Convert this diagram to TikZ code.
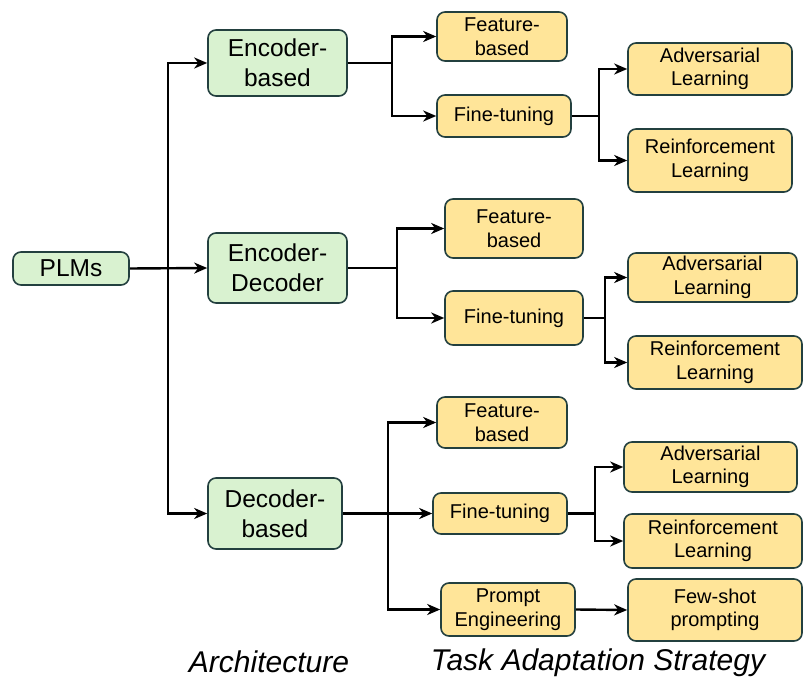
\documentclass[tikz,border=0pt]{standalone}
\usepackage{fontspec}
\setmainfont{Liberation Sans}
\usetikzlibrary{arrows.meta}
\definecolor{gfill}{HTML}{D9F2D0}
\definecolor{yfill}{HTML}{FFE599}
\definecolor{bord}{HTML}{23403F}
\begin{document}
\begin{tikzpicture}[x=1pt,y=-1pt,
  base/.style={draw=bord,line width=1.6pt,rounded corners=8pt,align=center,inner sep=0pt},
  gbox/.style={base,fill=gfill,font=\fontsize{24.5}{30}\selectfont},
  ybox/.style={base,fill=yfill,font=\fontsize{20}{23.5}\selectfont},
  conn/.style={line width=2.4pt,black},
  arr/.style={conn,-{Stealth[length=13pt,width=11pt,inset=4pt]}},
  lab/.style={font=\fontsize{30}{36}\selectfont\itshape}]
\useasboundingbox (0,0) rectangle (810,684);
% green
\node[gbox,minimum width=116pt,minimum height=33pt] (PLM) at (71,268.5) {PLMs};
\node[gbox,minimum width=139pt,minimum height=66pt] (EB) at (277.5,63) {Encoder-\\based};
\node[gbox,minimum width=139pt,minimum height=70pt] (ED) at (277.5,268) {Encoder-\\Decoder};
\node[gbox,minimum width=134pt,minimum height=71pt] (DB) at (275,513.5) {Decoder-\\based};
% yellow group 1
\node[ybox,minimum width=130pt,minimum height=49pt] (F1) at (502,36.5) {Feature-\\based};
\node[ybox,minimum width=134pt,minimum height=42pt] (T1) at (504,116) {Fine-tuning};
\node[ybox,minimum width=164pt,minimum height=52pt] (A1) at (710,69) {Adversarial\\Learning};
\node[ybox,minimum width=164pt,minimum height=63pt] (R1) at (710,160.5) {Reinforcement\\Learning};
% yellow group 2
\node[ybox,minimum width=138pt,minimum height=59pt] (F2) at (514,228.5) {Feature-\\based};
\node[ybox,minimum width=138pt,minimum height=54pt] (T2) at (514,318) {Fine-tuning};
\node[ybox,minimum width=169pt,minimum height=49pt] (A2) at (712.5,277.5) {Adversarial\\Learning};
\node[ybox,minimum width=174pt,minimum height=53pt] (R2) at (715,362.5) {Reinforcement\\Learning};
% yellow group 3
\node[ybox,minimum width=130pt,minimum height=51pt] (F3) at (502,422.5) {Feature-\\based};
\node[ybox,minimum width=134pt,minimum height=41pt] (T3) at (500,513.5) {Fine-tuning};
\node[ybox,minimum width=173pt,minimum height=50pt] (A3) at (710.5,467) {Adversarial\\Learning};
\node[ybox,minimum width=178pt,minimum height=54pt] (R3) at (713,541) {Reinforcement\\Learning};
\node[ybox,minimum width=134pt,minimum height=53pt] (P) at (508,609.5) {Prompt\\Engineering};
\node[ybox,minimum width=174pt,minimum height=62pt] (FS) at (715,610) {Few-shot\\prompting};
% junctions
\coordinate (j1) at (168,268.5);
\coordinate (j2) at (392,63);
\coordinate (j3) at (599,116);
\coordinate (j4) at (397,268);
\coordinate (j5) at (605,318);
\coordinate (j6) at (388,513.5);
\coordinate (j7) at (595,513.5);
% connectors
\draw[arr] (PLM.east) -- (ED.west);
\draw[arr] (j1) |- (EB.west);
\draw[arr] (j1) |- (DB.west);
\draw[conn] (EB.east) -- (j2);
\draw[arr] (j2) |- (F1.west);
\draw[arr] (j2) |- (T1.west);
\draw[conn] (T1.east) -- (j3);
\draw[arr] (j3) |- (A1.west);
\draw[arr] (j3) |- (R1.west);
\draw[conn] (ED.east) -- (j4);
\draw[arr] (j4) |- (F2.west);
\draw[arr] (j4) |- (T2.west);
\draw[conn] (T2.east) -- (j5);
\draw[arr] (j5) |- (A2.west);
\draw[arr] (j5) |- (R2.west);
\draw[arr] (DB.east) -- (T3.west);
\draw[arr] (j6) |- (F3.west);
\draw[arr] (j6) |- (P.west);
\draw[conn] (T3.east) -- (j7);
\draw[arr] (j7) |- (A3.west);
\draw[arr] (j7) |- (R3.west);
\draw[arr] (P.east) -- (FS.west);
% labels
\node[lab] (L1) at (269,662) {Architecture};
\node[lab] (L2) at (598,663) {Task Adaptation Strategy};
\end{tikzpicture}
\end{document}
